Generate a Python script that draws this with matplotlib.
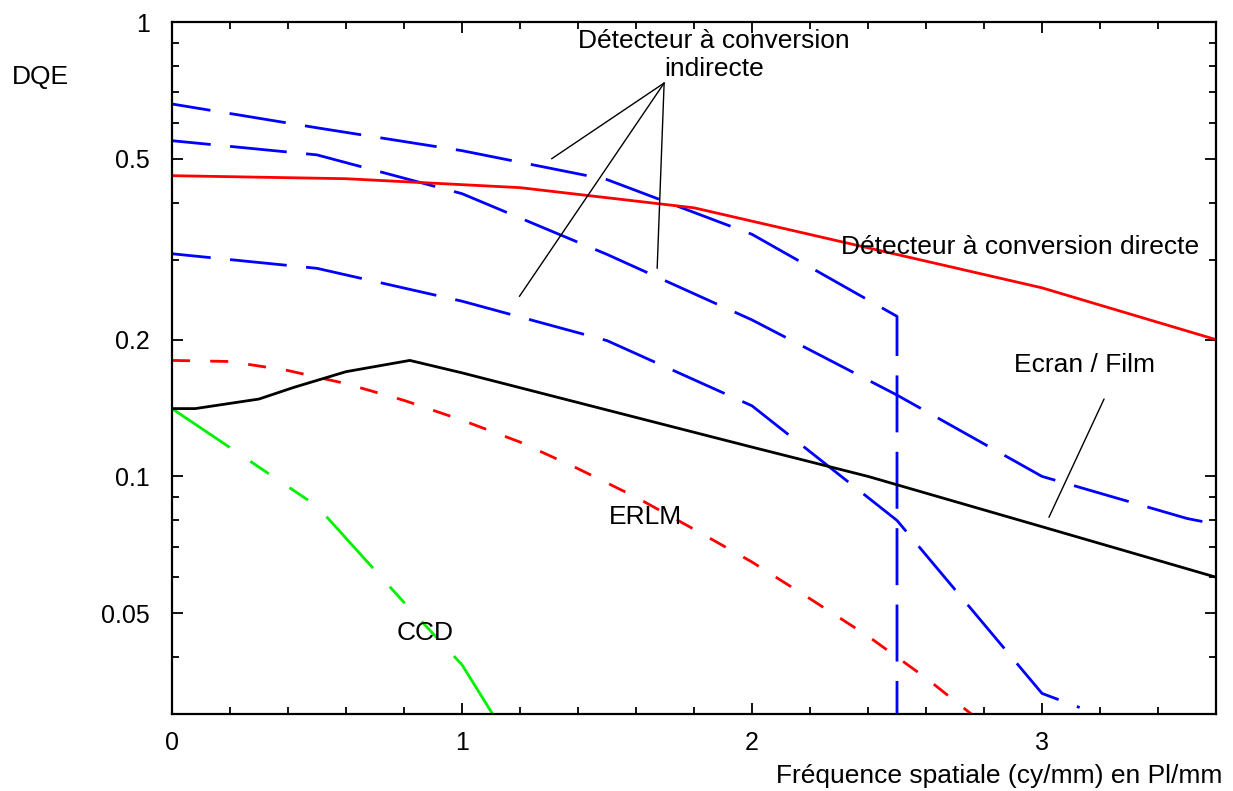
import matplotlib
matplotlib.use("Agg")
import matplotlib.pyplot as plt
from matplotlib.ticker import FixedLocator, MultipleLocator, NullFormatter

# valeurs (DQE en fonction de la frequence spatiale)
freq_direct = [0, 0.6, 1.2, 1.8, 3.0, 3.6]
dqe_direct = [0.459, 0.452, 0.432, 0.390, 0.260, 0.200]

freq_film = [0, 0.08, 0.3, 0.42, 0.6, 0.82, 1.0, 1.5, 2.0, 2.4, 3.0, 3.6]
dqe_film = [0.141, 0.141, 0.148, 0.157, 0.170, 0.180, 0.169, 0.140, 0.116, 0.100, 0.0775, 0.060]

freq_erlm = [0, 0.2, 0.4, 0.6, 0.8, 1.0, 1.2, 1.4, 1.6, 1.8, 2.0, 2.2, 2.4, 2.6, 2.8]
dqe_erlm = [0.180, 0.179, 0.171, 0.160, 0.147, 0.133, 0.119, 0.104, 0.090, 0.0765,
            0.0648, 0.0538, 0.0445, 0.0360, 0.0285]

freq_ccd = [0, 0.5, 0.8, 1.0, 1.15]
dqe_ccd = [0.141, 0.086, 0.0528, 0.0385, 0.027]

freq_indirect_a = [0, 0.5, 1.0, 1.5, 2.0, 2.5, 2.5]
dqe_indirect_a = [0.660, 0.585, 0.521, 0.450, 0.341, 0.225, 0.020]

freq_indirect_b = [0, 0.5, 1.0, 1.5, 2.0, 2.5, 3.0, 3.5, 3.6]
dqe_indirect_b = [0.548, 0.510, 0.419, 0.308, 0.221, 0.151, 0.100, 0.0808, 0.0785]

freq_indirect_c = [0, 0.5, 1.0, 1.5, 2.0, 2.5, 3.0, 3.13]
dqe_indirect_c = [0.309, 0.287, 0.243, 0.199, 0.143, 0.080, 0.0333, 0.031]

x_ticks = [0, 1, 2, 3]
x_labels = ["0", "1", "2", "3"]
y_ticks = [0.05, 0.1, 0.2, 0.5, 1]
y_labels = ["0.05", "0.1", "0.2", "0.5", "1"]
y_minor = [0.03, 0.04, 0.06, 0.07, 0.08, 0.09, 0.3, 0.4, 0.6, 0.7, 0.8, 0.9]

plt.rcParams["font.family"] = ["Liberation Sans", "DejaVu Sans"]
plt.rcParams["lines.scale_dashes"] = False

W, H = 1233, 791
fig = plt.figure(figsize=(W / 100, H / 100), dpi=100)
ax = fig.add_axes([172 / W, 1 - 714 / H, (1216 - 172) / W, (714 - 22) / H])
ax.set_yscale("log")

lw = 2.0
blue_dash = (13, (41, 14))
ax.plot(freq_indirect_a, dqe_indirect_a, color="#0000ff", lw=lw, ls=blue_dash)
ax.plot(freq_indirect_b, dqe_indirect_b, color="#0000ff", lw=lw, ls=blue_dash)
ax.plot(freq_indirect_c, dqe_indirect_c, color="#0000ff", lw=lw, ls=blue_dash)
ax.plot(freq_direct, dqe_direct, color="#ff0000", lw=lw)
ax.plot(freq_erlm, dqe_erlm, color="#ff0000", lw=lw, ls=(0, (13, 14.5)))
ax.plot(freq_ccd, dqe_ccd, color="#00f000", lw=lw, ls=(0, (50, 18, 16, 18, 16, 18)))
ax.plot(freq_film, dqe_film, color="black", lw=lw)

ax.set_xlim(0, 3.6)
ax.set_ylim(0.03, 1)

ax.xaxis.set_major_locator(FixedLocator(x_ticks))
ax.xaxis.set_minor_locator(MultipleLocator(0.2))
ax.set_xticklabels(x_labels)
ax.yaxis.set_major_locator(FixedLocator(y_ticks))
ax.yaxis.set_minor_locator(FixedLocator(y_minor))
ax.set_yticklabels(y_labels)
ax.yaxis.set_minor_formatter(NullFormatter())

ax.tick_params(which="both", direction="in", top=True, right=True, width=1.3,
               labelsize=18, colors="black")
ax.tick_params(which="major", length=8)
ax.tick_params(which="minor", length=5)
ax.tick_params(axis="y", pad=16)
ax.tick_params(axis="x", pad=12)
for sp in ax.spines.values():
    sp.set_linewidth(1.6)

fs = 19
fig.text(12 / W, 1 - 77 / H, "DQE", fontsize=fs, ha="left", va="center")
fig.text(1222 / W, 1 - 776 / H, "Fréquence spatiale (cy/mm) en Pl/mm",
         fontsize=fs, ha="right", va="center")

ax.text(1.87, 0.846, "Détecteur à conversion\nindirecte", fontsize=fs,
        ha="center", va="center", multialignment="center", linespacing=1.2)
ax.text(2.307, 0.319, "Détecteur à conversion directe", fontsize=fs,
        ha="left", va="center")
ax.text(3.145, 0.176, "Ecran / Film", fontsize=fs, ha="center", va="center")
ax.text(1.631, 0.0813, "ERLM", fontsize=fs, ha="center", va="center")
ax.text(0.873, 0.0453, "CCD", fontsize=fs, ha="center", va="center")

leader = dict(arrowstyle="-", color="black", lw=1.0, shrinkA=0, shrinkB=0)
apex = (1.697, 0.734)
for end in [(1.309, 0.500), (1.198, 0.249), (1.673, 0.287)]:
    ax.annotate("", xy=end, xytext=apex, arrowprops=leader)
ax.annotate("", xy=(3.024, 0.0813), xytext=(3.214, 0.148), arrowprops=leader)

fig.savefig("out.png", dpi=100)
